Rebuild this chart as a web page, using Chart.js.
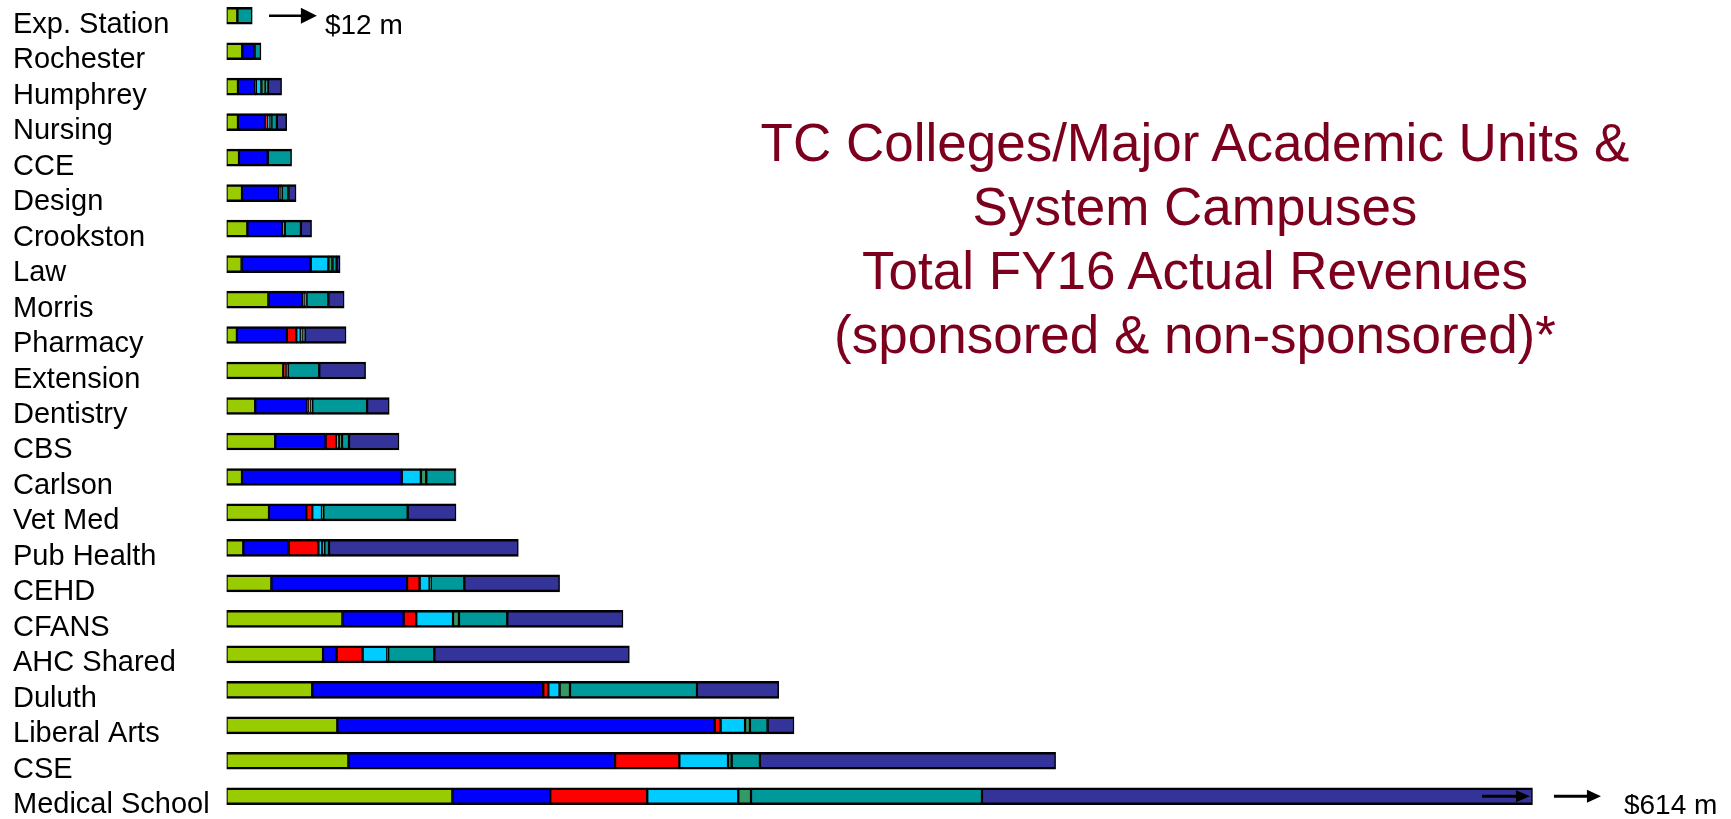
<!DOCTYPE html>
<html>
<head>
<meta charset="utf-8">
<script src="https://cdn.jsdelivr.net/npm/chart.js@4.4.0/dist/chart.umd.min.js"></script>
<style>
  html, body { margin: 0; padding: 0; background: #fff; overflow: hidden; }
  #wrap { position: absolute; left: 0; top: -2px; width: 1731px; height: 816px; }
  #title {
    position: absolute; left: 700px; top: 111px; width: 990px;
    text-align: center; font-family: "Liberation Sans", Arial, sans-serif;
    font-size: 53px; line-height: 64px; color: #7C001E;
  }
</style>
</head>
<body>
<div id="wrap"><canvas id="chart"></canvas></div>
<div id="title">TC Colleges/Major Academic Units &amp;<br>System Campuses<br>Total FY16 Actual Revenues<br>(sponsored &amp; non-sponsored)*</div>
<script>
// units, top to bottom ($ millions)
const units = ['Exp. Station', 'Rochester', 'Humphrey', 'Nursing', 'CCE', 'Design', 'Crookston',
  'Law', 'Morris', 'Pharmacy', 'Extension', 'Dentistry', 'CBS', 'Carlson', 'Vet Med',
  'Pub Health', 'CEHD', 'CFANS', 'AHC Shared', 'Duluth', 'Liberal Arts', 'CSE', 'Medical School'];

const greenRev = [5.1, 7.4, 5.4, 5.4, 5.9, 7.3, 9.8, 7.1, 19.7, 4.9, 26.7, 13.5, 22.9, 7.3, 20.0, 7.9, 21.1, 54.5, 45.4, 40.3, 52.1, 57.3, 106.2];
const blueRev = [0, 5.8, 8.1, 13.0, 13.5, 17.5, 16.6, 32.5, 16.1, 23.5, 0, 24.5, 23.7, 75.1, 17.5, 21.3, 63.8, 28.8, 6.4, 108.6, 177.4, 125.4, 46.0];
const redRev = [0, 0, 0.3, 0.8, 0, 0.5, 0, 0, 0.6, 4.4, 1.5, 0.5, 5.2, 0, 2.8, 14.0, 5.9, 5.9, 12.2, 2.4, 2.8, 30.2, 45.6];
const cyanRev = [0, 0, 2.6, 1.4, 0, 0, 0, 8.3, 0, 2.1, 0, 1.0, 1.0, 9.0, 4.6, 1.8, 4.7, 17.3, 11.6, 5.3, 11.5, 22.9, 42.8];
const seaRev = [0, 0, 2.0, 0.5, 0, 0.7, 1.0, 1.9, 1.2, 1.0, 0.6, 0.8, 1.5, 2.5, 0.6, 1.0, 0.5, 2.8, 0.4, 4.9, 2.3, 1.7, 6.0];
const tealRev = [7.0, 3.0, 1.1, 2.6, 11.2, 3.1, 7.6, 2.0, 10.3, 1.0, 14.8, 25.8, 3.3, 13.7, 39.7, 2.2, 15.8, 22.7, 21.7, 59.7, 8.3, 13.3, 108.6];
const navyRev = [0, 0, 6.4, 4.6, 0, 3.6, 5.0, 1.6, 7.4, 19.3, 21.8, 10.4, 23.5, 0.3, 22.7, 89.0, 44.8, 54.4, 91.7, 38.4, 12.4, 139.0, 258.8];

const seriesColors = ['#99CC00', '#0000FF', '#FF0000', '#00CCFF', '#339966', '#009999', '#333399'];
const seriesList = [greenRev, blueRev, redRev, cyanRev, seaRev, tealRev, navyRev];

const datasets = seriesList.map(function (vals, i) {
  return {
    label: 'Revenue ' + (i + 1),
    data: vals,
    backgroundColor: seriesColors[i],
    borderColor: '#000',
    borderWidth: { top: 2.5, bottom: 2.5, left: 1.5, right: 1.5 },
    borderSkipped: false,
    barThickness: 17
  };
});

// arrows and the two $ notes, placed with the scales
const notesPlugin = {
  id: 'notes',
  afterDatasetsDraw(chart) {
    const ctx = chart.ctx;
    const xs = chart.scales.x, ys = chart.scales.y;

    function arrow(v0, v1, row, head, half, lw) {
      const x0 = xs.getPixelForValue(v0);
      const x1 = xs.getPixelForValue(v1);
      const y = ys.getPixelForValue(row);
      ctx.save();
      ctx.strokeStyle = '#000';
      ctx.fillStyle = '#000';
      ctx.lineWidth = lw;
      ctx.beginPath();
      ctx.moveTo(x0, y);
      ctx.lineTo(x1 - head + 1, y);
      ctx.stroke();
      ctx.beginPath();
      ctx.moveTo(x1, y);
      ctx.lineTo(x1 - head, y - half);
      ctx.lineTo(x1 - head, y + half);
      ctx.closePath();
      ctx.fill();
      ctx.restore();
    }

    function note(text, v, row) {
      ctx.save();
      ctx.fillStyle = '#000';
      ctx.font = '28px "Liberation Sans", Arial, sans-serif';
      ctx.textAlign = 'left';
      ctx.textBaseline = 'alphabetic';
      ctx.fillText(text, xs.getPixelForValue(v), ys.getPixelForValue(row) + 18);
      ctx.restore();
    }

    arrow(20, 42.5, 0, 16, 8, 2.5);
    note('$12 m', 46.3, 0);

    const last = units.length - 1;
    arrow(590.3, 612.8, last, 14, 6, 3);
    arrow(624.1, 646.2, last, 14, 6.5, 3);
    note('$614 m', 657, last);
  }
};

new Chart(document.getElementById('chart'), {
  type: 'bar',
  data: { labels: units, datasets: datasets },
  options: {
    indexAxis: 'y',
    responsive: true,
    maintainAspectRatio: false,
    animation: false,
    layout: { padding: { left: 13, right: 15.6, top: 0, bottom: 0 } },
    plugins: { legend: { display: false }, tooltip: { enabled: false } },
    scales: {
      x: { stacked: true, min: 0, max: 700, display: false },
      y: {
        stacked: true,
        grid: { display: false },
        border: { display: false },
        afterFit: function (scale) {
          scale.width = 213.5;
          scale.paddingTop = 0;
          scale.paddingBottom = 0;
        },
        ticks: {
          autoSkip: false,
          crossAlign: 'far',
          labelOffset: 9,
          color: '#000',
          font: { family: '"Liberation Sans", Arial, sans-serif', size: 29 }
        }
      }
    }
  },
  plugins: [notesPlugin]
});
</script>
</body>
</html>
